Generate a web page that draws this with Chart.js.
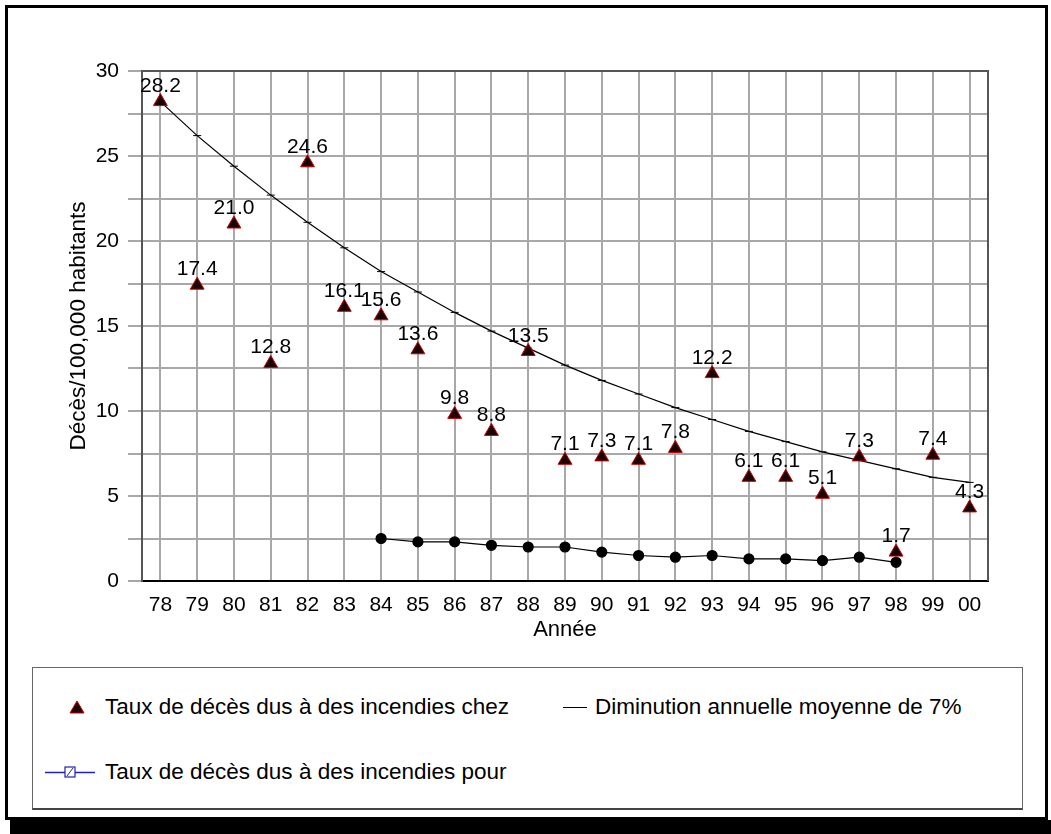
<!DOCTYPE html>
<html>
<head>
<meta charset="utf-8">
<script src="https://cdn.jsdelivr.net/npm/chart.js@4"></script>
<style>
  body { margin: 0; background: #fff; width: 1051px; height: 834px; position: relative; overflow: hidden;
         font-family: "Liberation Sans", Arial, sans-serif; }
  .frame { position: absolute; left: 5px; top: 5px; width: 1037px; height: 809px; border: 3px solid #000; }
  .shadow { position: absolute; left: 10px; top: 820px; width: 1041px; height: 14px; background: #000; }
  #wrap { position: absolute; left: 0; top: 0; width: 1051px; height: 660px; }
  .legend { position: absolute; left: 32px; top: 667px; width: 989px; height: 140px;
            border: 1px solid #666; border-bottom: 2px solid #444; background: #fff; }
  .item { position: absolute; font-size: 22.5px; color: #000; white-space: nowrap; line-height: 24px; }
  .item svg { position: absolute; top: 0; }
</style>
</head>
<body>
<div class="frame"></div>
<div class="shadow"></div>
<div id="wrap"><canvas id="fireChart"></canvas></div>
<div class="legend" id="legend"></div>
<script>
const years = ['78','79','80','81','82','83','84','85','86','87','88','89','90','91','92','93','94','95','96','97','98','99','00'];
const tauxChez = [28.2, 17.4, 21.0, 12.8, 24.6, 16.1, 15.6, 13.6, 9.8, 8.8, 13.5, 7.1, 7.3, 7.1, 7.8, 12.2, 6.1, 6.1, 5.1, 7.3, 1.7, 7.4, 4.3];
const diminution = [28.2, 26.2, 24.4, 22.7, 21.1, 19.6, 18.2, 17.0, 15.8, 14.7, 13.7, 12.7, 11.8, 11.0, 10.2, 9.5, 8.8, 8.2, 7.6, 7.1, 6.6, 6.1, 5.8];
const tauxPour = [null, null, null, null, null, null, 2.5, 2.3, 2.3, 2.1, 2.0, 2.0, 1.7, 1.5, 1.4, 1.5, 1.3, 1.3, 1.2, 1.4, 1.1, null, null];
const yTicks = [0, 5, 10, 15, 20, 25, 30];

const labelChez = 'Taux de décès dus à des incendies chez';
const labelDim = 'Diminution annuelle moyenne de 7%';
const labelPour = 'Taux de décès dus à des incendies pour';

const FONT = '"Liberation Sans", Arial, sans-serif';

// values above the triangles
const valueLabels = {
  id: 'valueLabels',
  afterDatasetsDraw(chart) {
    const ctx = chart.ctx;
    const meta = chart.getDatasetMeta(0);
    ctx.save();
    ctx.font = '21px ' + FONT;
    ctx.fillStyle = '#000';
    ctx.textAlign = 'center';
    ctx.textBaseline = 'alphabetic';
    meta.data.forEach((pt, i) => {
      ctx.fillText(tauxChez[i].toFixed(1), pt.x, pt.y - 10);
    });
    ctx.restore();
  }
};

// top and right edge of the plot
const plotFrame = {
  id: 'plotFrame',
  beforeDatasetsDraw(chart) {
    const {ctx, chartArea: a} = chart;
    ctx.save();
    ctx.strokeStyle = '#555';
    ctx.lineWidth = 2;
    ctx.beginPath();
    ctx.moveTo(a.left, a.top);
    ctx.lineTo(a.right, a.top);
    ctx.lineTo(a.right, a.bottom);
    ctx.stroke();
    ctx.restore();
  }
};

const ctx = document.querySelector('#fireChart').getContext('2d');
const fireChart = new Chart(ctx, {
  type: 'line',
  data: {
    labels: years,
    datasets: [{
      label: labelChez,
      data: tauxChez,
      showLine: false,
      pointStyle: 'triangle',
      pointRadius: 8,
      pointBackgroundColor: '#1a0000',
      pointBorderColor: '#cc0000',
      pointBorderWidth: 1
    }, {
      label: labelDim,
      data: diminution,
      borderColor: '#000',
      borderWidth: 1.2,
      pointStyle: 'line',
      pointRadius: 4,
      pointBorderColor: '#000',
      pointBorderWidth: 1,
      tension: 0
    }, {
      label: labelPour,
      data: tauxPour,
      borderColor: '#000',
      borderWidth: 1.2,
      pointStyle: 'circle',
      pointRadius: 5,
      pointBackgroundColor: '#000',
      pointBorderColor: '#000',
      spanGaps: false
    }]
  },
  options: {
    responsive: true,
    maintainAspectRatio: false,
    animation: false,
    devicePixelRatio: 1,
    layout: { padding: { left: 62, top: 71, right: 63, bottom: 9 } },
    plugins: {
      legend: { display: false },
      tooltip: { enabled: false }
    },
    scales: {
      x: {
        offset: true,
        grid: { offset: false, color: '#a8a8a8', lineWidth: 2, drawTicks: false },
        border: { color: '#000', width: 2 },
        ticks: { color: '#000', font: { size: 21, family: FONT }, padding: 12, maxRotation: 0, autoSkip: false },
        title: { display: true, text: 'Année', color: '#000', font: { size: 22, family: FONT }, padding: { top: 0, bottom: 8 } },
        afterFit(scale) { scale.height = 70; }
      },
      y: {
        min: 0,
        max: 30,
        afterBuildTicks(scale) {
          const t = [];
          for (let v = 0; v <= 30; v += 2.5) t.push({ value: v });
          scale.ticks = t;
        },
        grid: { color: '#a8a8a8', lineWidth: 2, tickLength: 14 },
        border: { color: '#555', width: 2 },
        ticks: {
          color: '#000',
          font: { size: 21, family: FONT },
          padding: 9,
          callback: (v) => yTicks.includes(v) ? String(v) : ''
        },
        title: { display: true, text: 'Décès/100,000 habitants', color: '#000', font: { size: 22.5, family: FONT }, padding: { top: 3, bottom: 0 } },
        afterFit(scale) { scale.width = 80; }
      }
    }
  },
  plugins: [plotFrame, valueLabels]
});

// legend drawn as html, from the dataset labels
const legend = document.querySelector('#legend');
const ds = fireChart.data.datasets;
const items = [
  { text: ds[0].label, x: 72, y: 27,
    svg: '<svg width="20" height="24" style="left:-38px"><polygon points="10,6 17,18 3,18" fill="#1a0000" stroke="#cc0000" stroke-width="1"/></svg>' },
  { text: ds[1].label, x: 562, y: 27,
    svg: '<svg width="30" height="24" style="left:-32px"><line x1="0" y1="12.5" x2="24" y2="12.5" stroke="#000" stroke-width="1"/></svg>' },
  { text: ds[2].label, x: 72, y: 92,
    svg: '<svg width="52" height="24" style="left:-60px"><line x1="0" y1="12.5" x2="50" y2="12.5" stroke="#2222aa" stroke-width="1.5"/><rect x="20" y="7" width="10" height="10" fill="#fff" stroke="#2222aa" stroke-width="1.2"/><line x1="22" y1="16" x2="28" y2="8" stroke="#2222aa" stroke-width="1"/></svg>' }
];
items.forEach(it => {
  const d = document.createElement('div');
  d.className = 'item';
  d.style.left = it.x + 'px';
  d.style.top = it.y + 'px';
  d.innerHTML = it.svg;
  const s = document.createElement('span');
  s.textContent = it.text;
  d.appendChild(s);
  legend.appendChild(d);
});
</script>
</body>
</html>
